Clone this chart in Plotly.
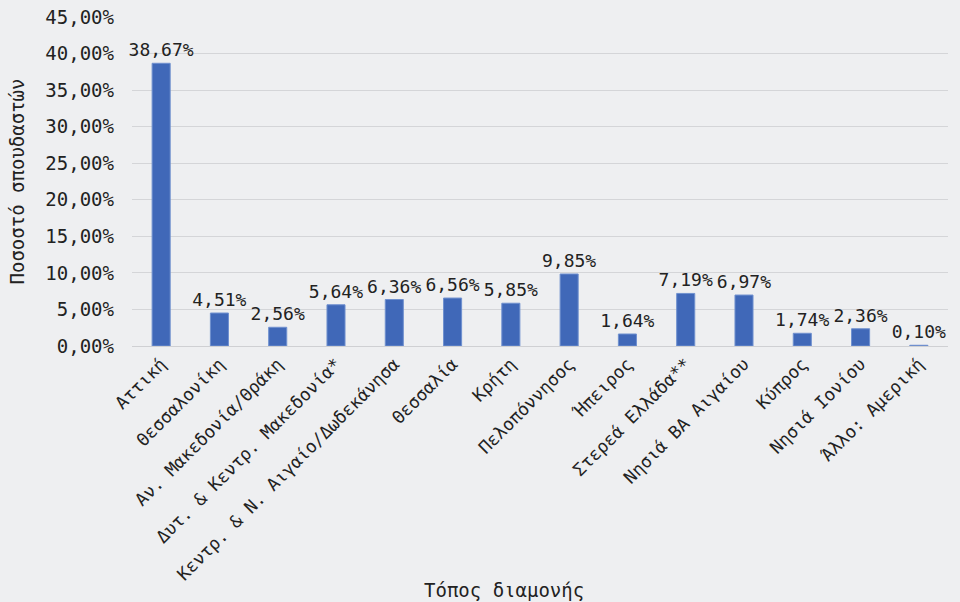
import plotly.graph_objects as go

categories = ["Αττική", "Θεσσαλονίκη", "Αν. Μακεδονία/Θράκη", "Δυτ. & Κεντρ. Μακεδονία*",
              "Κεντρ. & Ν. Αιγαίο/Δωδεκάνησα", "Θεσσαλία", "Κρήτη", "Πελοπόννησος", "Ήπειρος",
              "Στερεά Ελλάδα**", "Νησιά ΒΑ Αιγαίου", "Κύπρος", "Νησιά Ιονίου", "Άλλο: Αμερική"]
values = [0.3867, 0.0451, 0.0256, 0.0564, 0.0636, 0.0656, 0.0585, 0.0985, 0.0164,
          0.0719, 0.0697, 0.0174, 0.0236, 0.0010]
x_title = "Τόπος διαμονής"
y_title = "Ποσοστό σπουδαστών"

FONT = "DejaVu Sans Mono"
fig = go.Figure(go.Bar(
    x=categories, y=values,
    marker=dict(color="#4068b8", line=dict(color="#6f90cf", width=1)),
    text=[f"{v*100:.2f}%".replace(".", ",") for v in values],
    textposition="outside", cliponaxis=False, constraintext="none",
    textfont=dict(family=FONT, size=18, color="#222222"),
    hoverinfo="skip",
))
fig.update_layout(
    width=960, height=602,
    paper_bgcolor="#eeeff1", plot_bgcolor="#eeeff1",
    margin=dict(l=132, r=12, t=17, b=256),
    separators=",.",
    bargap=0.69,
    font=dict(family=FONT, size=19, color="#222222"),
    showlegend=False,
    xaxis=dict(tickangle=-45, automargin=False, tickfont=dict(size=17.5),
               showgrid=False, linecolor="#cfd0d3", showline=True, ticks=""),
    yaxis=dict(range=[0, 0.45], dtick=0.05, tickformat=".2%", gridcolor="#d4d5d8", automargin=False,
               zeroline=False, showline=False, ticks="", ticklen=0, ticklabelstandoff=17,
               title=dict(text=y_title, font=dict(size=19), standoff=15)),
    annotations=[dict(text=x_title, xref="paper", yref="paper", x=0.456, y=-0.7416,
                      xanchor="center", yanchor="middle", showarrow=False,
                      font=dict(family=FONT, size=19, color="#222222"))],
)
fig.write_html("out.html", config={"displayModeBar": False},
               post_script="document.body.style.margin='0';document.body.style.overflow='hidden';")
